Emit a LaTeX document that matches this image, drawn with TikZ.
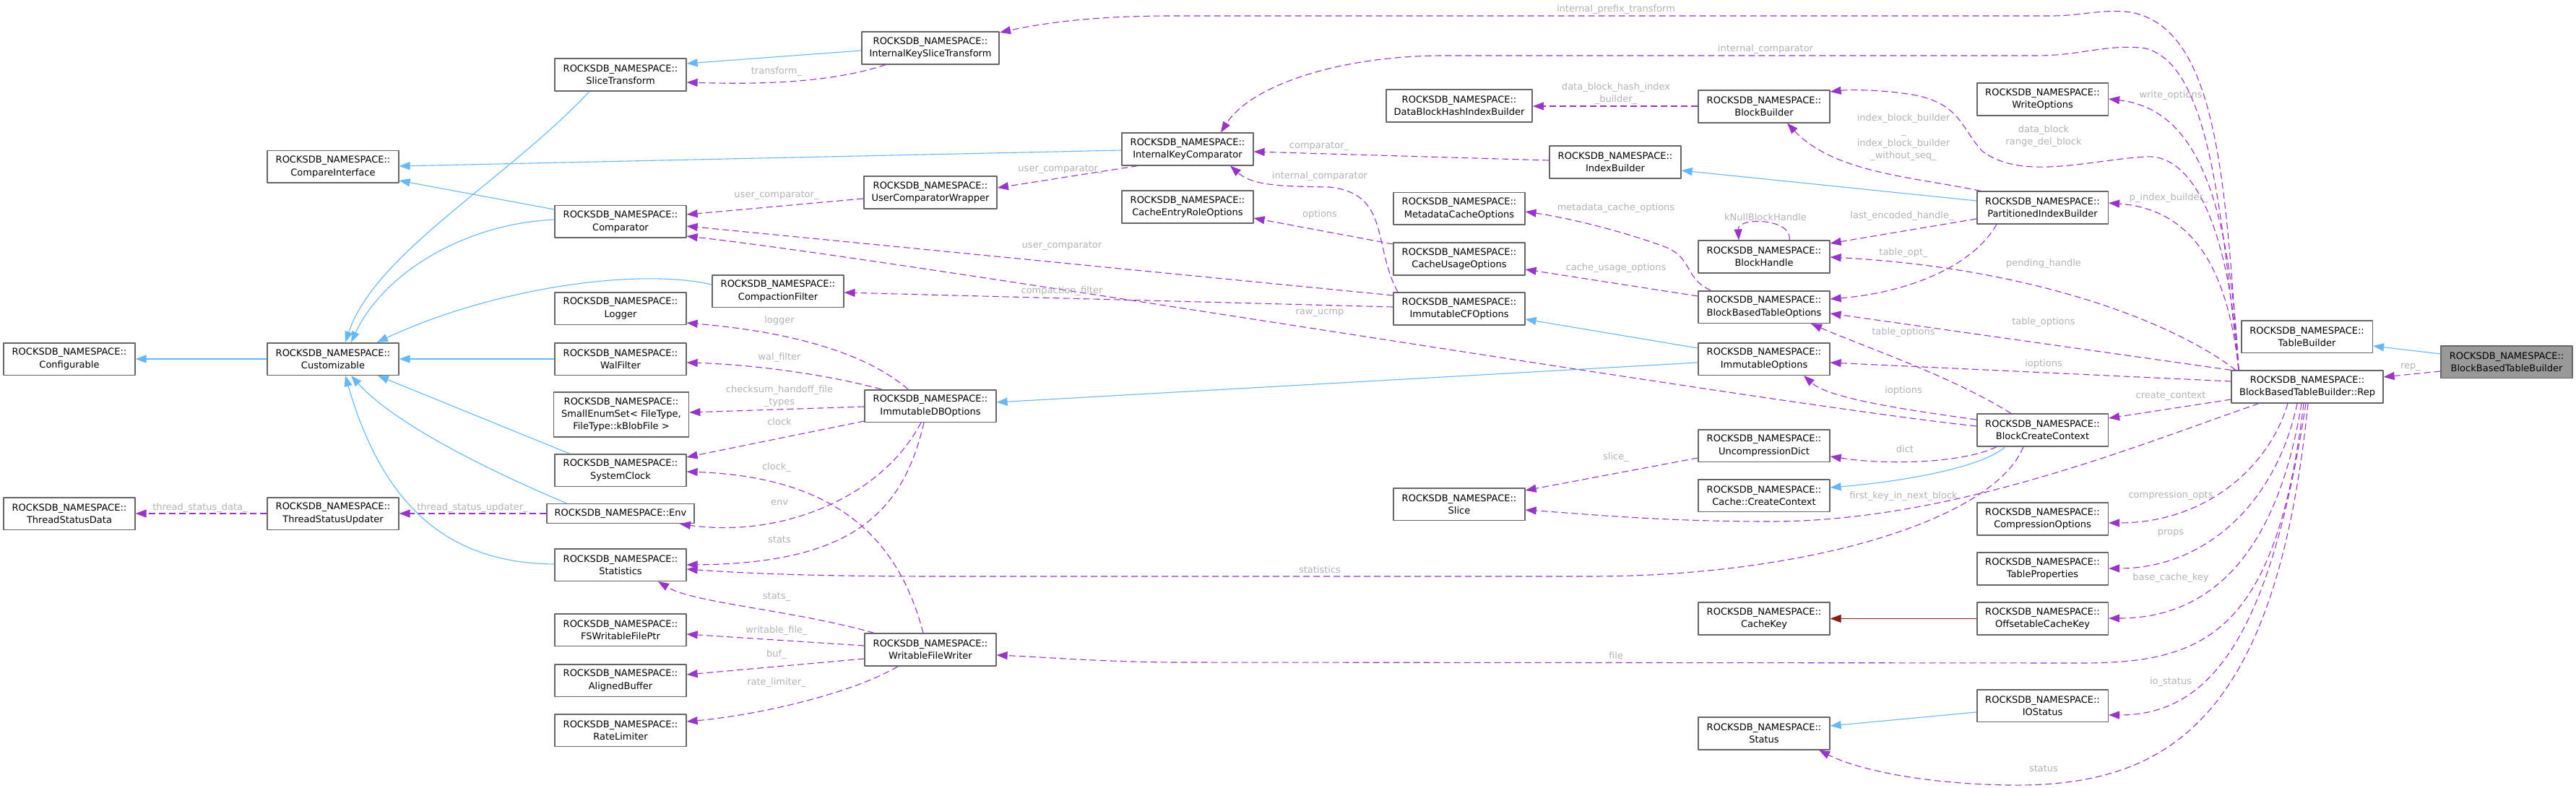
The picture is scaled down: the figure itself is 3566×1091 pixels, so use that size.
\documentclass[tikz,border=0pt]{standalone}
\usepackage{fontspec}
\newfontfamily\dvsans{DejaVu Sans}
\usetikzlibrary{arrows.meta}
\definecolor{inhblue}{RGB}{99,184,255}
\definecolor{usepurple}{RGB}{154,50,205}
\definecolor{tplred}{RGB}{139,26,26}
\definecolor{boxgray}{RGB}{102,102,102}
\definecolor{focusgray}{RGB}{153,153,153}
\definecolor{lblgray}{RGB}{178,178,178}

\begin{document}
\begin{tikzpicture}[x=0.5pt,y=-0.5pt,line join=round,
  font=\dvsans\fontsize{6.5}{8.65}\selectfont,
  cls/.style={draw=boxgray,fill=white,line width=0.8pt,align=center,inner xsep=5.4pt,inner ysep=1pt,minimum width=90.8pt,minimum height=22.3pt},
  focus/.style={cls,fill=focusgray},
  inherit/.style={draw=inhblue,line width=0.55pt,-{Triangle[length=7.5pt,width=5.5pt]}},
  usage/.style={draw=usepurple,line width=0.55pt,dash pattern=on 4.5pt off 2.5pt,-{Triangle[length=7.5pt,width=5.5pt]}},
  tpl/.style={draw=tplred,line width=0.55pt,-{Triangle[length=7.5pt,width=5.5pt]}},
  lbl/.style={text=lblgray,inner sep=0pt,align=center}]
\useasboundingbox (0,0) rectangle (3566,1091);

% classes, column by column
\node[cls] (cfg) at (96,497) {ROCKSDB\_NAMESPACE::\\Configurable};
\node[cls] (tsd) at (96,711) {ROCKSDB\_NAMESPACE::\\ThreadStatusData};
\node[cls] (cmpif) at (461,231) {ROCKSDB\_NAMESPACE::\\CompareInterface};
\node[cls] (cust) at (461,497) {ROCKSDB\_NAMESPACE::\\Customizable};
\node[cls] (tsu) at (461,711) {ROCKSDB\_NAMESPACE::\\ThreadStatusUpdater};
\node[cls] (slicet) at (859,103.5) {ROCKSDB\_NAMESPACE::\\SliceTransform};
\node[cls] (cmp) at (859,307) {ROCKSDB\_NAMESPACE::\\Comparator};
\node[cls] (logger) at (859,427) {ROCKSDB\_NAMESPACE::\\Logger};
\node[cls] (walf) at (859,497) {ROCKSDB\_NAMESPACE::\\WalFilter};
\node[cls,minimum height=31pt] (enumset) at (860,574) {ROCKSDB\_NAMESPACE::\\SmallEnumSet< FileType,\\FileType::kBlobFile >};
\node[cls] (sysclk) at (859,651) {ROCKSDB\_NAMESPACE::\\SystemClock};
\node[cls,minimum height=13.5pt] (env) at (859,711) {ROCKSDB\_NAMESPACE::Env};
\node[cls] (stats) at (859,782) {ROCKSDB\_NAMESPACE::\\Statistics};
\node[cls] (fswfp) at (859,872) {ROCKSDB\_NAMESPACE::\\FSWritableFilePtr};
\node[cls] (abuf) at (859,942) {ROCKSDB\_NAMESPACE::\\AlignedBuffer};
\node[cls] (ratelim) at (859,1011) {ROCKSDB\_NAMESPACE::\\RateLimiter};
\node[cls] (cfilt) at (1077,403) {ROCKSDB\_NAMESPACE::\\CompactionFilter};
\node[cls] (ikst) at (1288,66.5) {ROCKSDB\_NAMESPACE::\\InternalKeySliceTransform};
\node[cls] (ucw) at (1288,266.5) {ROCKSDB\_NAMESPACE::\\UserComparatorWrapper};
\node[cls] (idbo) at (1288,562) {ROCKSDB\_NAMESPACE::\\ImmutableDBOptions};
\node[cls] (wfw) at (1288,899.5) {ROCKSDB\_NAMESPACE::\\WritableFileWriter};
\node[cls] (ikc) at (1644,206.5) {ROCKSDB\_NAMESPACE::\\InternalKeyComparator};
\node[cls] (cero) at (1644,286.5) {ROCKSDB\_NAMESPACE::\\CacheEntryRoleOptions};
\node[cls] (dbhib) at (2020,146.5) {ROCKSDB\_NAMESPACE::\\DataBlockHashIndexBuilder};
\node[cls] (mco) at (2020,289) {ROCKSDB\_NAMESPACE::\\MetadataCacheOptions};
\node[cls] (cuo) at (2020,358.5) {ROCKSDB\_NAMESPACE::\\CacheUsageOptions};
\node[cls] (icfo) at (2020,427.5) {ROCKSDB\_NAMESPACE::\\ImmutableCFOptions};
\node[cls] (slice) at (2020,698) {ROCKSDB\_NAMESPACE::\\Slice};
\node[cls] (idxb) at (2236,224.5) {ROCKSDB\_NAMESPACE::\\IndexBuilder};
\node[cls] (bb) at (2442,147.5) {ROCKSDB\_NAMESPACE::\\BlockBuilder};
\node[cls] (bh) at (2442,355.5) {ROCKSDB\_NAMESPACE::\\BlockHandle};
\node[cls] (bbto) at (2442,425) {ROCKSDB\_NAMESPACE::\\BlockBasedTableOptions};
\node[cls] (imopt) at (2442,497) {ROCKSDB\_NAMESPACE::\\ImmutableOptions};
\node[cls] (udict) at (2442,617) {ROCKSDB\_NAMESPACE::\\UncompressionDict};
\node[cls] (ccc) at (2442,686) {ROCKSDB\_NAMESPACE::\\Cache::CreateContext};
\node[cls] (ckey) at (2442,856.5) {ROCKSDB\_NAMESPACE::\\CacheKey};
\node[cls] (status) at (2442,1015.5) {ROCKSDB\_NAMESPACE::\\Status};
\node[cls] (wopts) at (2827.5,137.5) {ROCKSDB\_NAMESPACE::\\WriteOptions};
\node[cls] (pib) at (2827.5,287.5) {ROCKSDB\_NAMESPACE::\\PartitionedIndexBuilder};
\node[cls] (bcc) at (2827.5,595.5) {ROCKSDB\_NAMESPACE::\\BlockCreateContext};
\node[cls] (copts) at (2827.5,718.5) {ROCKSDB\_NAMESPACE::\\CompressionOptions};
\node[cls] (tprops) at (2827.5,787.5) {ROCKSDB\_NAMESPACE::\\TableProperties};
\node[cls] (ock) at (2827.5,856.5) {ROCKSDB\_NAMESPACE::\\OffsetableCacheKey};
\node[cls] (iostat) at (2827.5,977) {ROCKSDB\_NAMESPACE::\\IOStatus};
\node[cls] (tb) at (3193.5,466) {ROCKSDB\_NAMESPACE::\\TableBuilder};
\node[cls] (rep) at (3194,535.5) {ROCKSDB\_NAMESPACE::\\BlockBasedTableBuilder::Rep};
\node[focus] (bbtb) at (3470,501) {ROCKSDB\_NAMESPACE::\\BlockBasedTableBuilder};

% inheritance
\draw[inherit] (cust) -- (cfg);
\draw[inherit] (slicet.south -| 816,0) .. controls (700,250) and (520,350) .. (cust.north -| 478,0);
\draw[inherit] (cmp.west |- 0,290) -- (cmpif.east |- 0,250);
\draw[inherit] (cmp.west |- 0,304) .. controls (640,310) and (530,380) .. (cust.north -| 486,0);
\draw[inherit] (cfilt.west |- 0,394) .. controls (880,370) and (680,400) .. (cust.north -| 522,0);
\draw[inherit] (walf) -- (cust);
\draw[inherit] (sysclk.north -| 788,0) -- (cust.south -| 523,0);
\draw[inherit] (env.north -| 784,0) .. controls (650,640) and (540,580) .. (cust.south -| 486,0);
\draw[inherit] (stats.west |- 0,781) .. controls (620,780) and (530,700) .. (cust.south -| 478,0);
\draw[inherit] (ikst.west |- 0,70) -- (slicet.east |- 0,88);
\draw[inherit] (ikc.west |- 0,208) -- (cmpif.east |- 0,230);
\draw[inherit] (pib.west |- 0,278) -- (idxb.east |- 0,236);
\draw[inherit] (imopt.west |- 0,482) -- (icfo.east |- 0,442);
\draw[inherit] (imopt.west |- 0,502) -- (idbo.east |- 0,557);
\draw[inherit] (bbtb.west |- 0,490) -- (tb.east |- 0,479);
\draw[inherit] (bcc.south -| 2776,0) .. controls (2740,650) and (2620,668) .. (ccc.east |- 0,675);
\draw[inherit] (iostat.west |- 0,986) -- (status.east |- 0,1005);
\draw[tpl] (ock) -- (ckey);

% members of Rep
\draw[usage] (bbtb.west |- 0,514) -- (rep.east |- 0,522);
\draw[usage] (rep.north -| 3099,0) .. controls (3080,250) and (3070,40) .. (2950,17) .. controls (2910,12) and (2880,22) .. (2840,22) -- (1620,22) .. controls (1500,22) and (1430,35) .. (ikst.east |- 0,45);
\draw[usage] (rep.north -| 3099,0) .. controls (3075,300) and (3060,90) .. (2970,67) .. controls (2920,60) and (2880,77) .. (2820,77) -- (2000,77) .. controls (1850,77) and (1730,120) .. (ikc.north -| 1690,0);
\draw[usage] (rep.north -| 3099,0) .. controls (3085,250) and (3030,150) .. (wopts.east |- 0,137);
\draw[usage] (rep.north -| 3099,0) .. controls (3085,300) and (3030,212) .. (2970,217) .. controls (2890,222) and (2800,250) .. (2745,210) .. controls (2715,180) and (2715,140) .. (2640,130) .. controls (2600,124) and (2560,124) .. (bb.east |- 0,127);
\draw[usage] (rep.north -| 3099,0) .. controls (3085,380) and (3040,290) .. (pib.east |- 0,281);
\draw[usage] (rep.north -| 3095,0) .. controls (3000,440) and (2800,370) .. (bh.east |- 0,356);
\draw[usage] (rep.north west) -- (bbto.east |- 0,434);
\draw[usage] (rep.west |- 0,528) -- (imopt.east |- 0,502);
\draw[usage] (rep.west |- 0,553) -- (bcc.east |- 0,579);
\draw[usage] (rep.south -| 3127,0) .. controls (2950,620) and (2700,722) .. (2450,722) .. controls (2300,722) and (2200,712) .. (slice.east |- 0,706);
\draw[usage] (rep.south -| 3167,0) .. controls (3140,650) and (3050,724) .. (copts.east |- 0,724);
\draw[usage] (rep.south -| 3180,0) .. controls (3150,700) and (3050,787) .. (tprops.east |- 0,787);
\draw[usage] (rep.south -| 3186,0) .. controls (3150,780) and (3050,856) .. (ock.east |- 0,856);
\draw[usage] (rep.south -| 3189,0) .. controls (3150,880) and (3050,918) .. (2880,918) -- (1620,917) .. controls (1520,916) and (1450,910) .. (wfw.east |- 0,907);
\draw[usage] (rep.south -| 3192,0) .. controls (3140,900) and (3050,990) .. (iostat.east |- 0,990);
\draw[usage] (rep.south -| 3195,0) .. controls (3150,1000) and (3000,1090) .. (2780,1087) .. controls (2660,1085) and (2570,1065) .. (status.south -| 2518,0);

% index builder, block handle, table options
\draw[usage] (pib.north -| 2742,0) .. controls (2650,245) and (2540,240) .. (bb.south -| 2474,0);
\draw[usage] (pib.west |- 0,303) -- (bh.east |- 0,337);
\draw[usage] (pib.south -| 2764,0) .. controls (2730,370) and (2640,405) .. (bbto.east |- 0,414);
\draw[usage] (bh.north -| 2477,0) .. controls (2482,302) and (2405,300) .. (bh.north -| 2407,0);
\draw[usage] (bbto.north -| 2368,0) .. controls (2330,385) and (2345,355) .. (2300,340) .. controls (2230,315) and (2160,300) .. (mco.east |- 0,293);
\draw[usage] (bbto.west |- 0,410) -- (cuo.east |- 0,373);
\draw[usage] (bb.west |- 0,147) -- (dbhib.east |- 0,147);
\draw[usage] (idxb.west |- 0,222) -- (ikc.east |- 0,210);

% block create context
\draw[usage] (bcc.north -| 2784,0) .. controls (2700,520) and (2580,480) .. (bbto.south -| 2507,0);
\draw[usage] (bcc.west |- 0,581) .. controls (2620,565) and (2530,550) .. (imopt.south -| 2497,0);
\draw[usage] (bcc.west |- 0,590) .. controls (2450,560) and (1250,360) .. (cmp.east |- 0,327);
\draw[usage] (bcc.south -| 2764,0) .. controls (2720,640) and (2620,645) .. (udict.east |- 0,632);
\draw[usage] (bcc.south -| 2801,0) .. controls (2760,720) and (2500,798) .. (2200,798) -- (1300,798) .. controls (1150,798) and (1050,795) .. (stats.east |- 0,788);
\draw[usage] (udict.west |- 0,634) -- (slice.east |- 0,679);

% comparators and cf options
\draw[usage] (ikst.south -| 1226,0) .. controls (1150,115) and (1050,117) .. (slicet.east |- 0,114);
\draw[usage] (ikc.south -| 1575,0) -- (ucw.east |- 0,260);
\draw[usage] (ucw.west |- 0,275) -- (cmp.east |- 0,297);
\draw[usage] (icfo.north -| 1935,0) .. controls (1900,340) and (1925,268) .. (1840,259) .. controls (1780,258) and (1735,258) .. (ikc.south -| 1703,0);
\draw[usage] (cuo.west |- 0,338) -- (cero.east |- 0,302);
\draw[usage] (icfo.west |- 0,409) -- (cmp.east |- 0,313);
\draw[usage] (icfo.west |- 0,425) -- (cfilt.east |- 0,405);

% db options and file writer
\draw[usage] (idbo.north -| 1257,0) .. controls (1200,490) and (1100,460) .. (logger.east |- 0,447);
\draw[usage] (idbo.north -| 1220,0) .. controls (1150,520) and (1050,505) .. (walf.east |- 0,502);
\draw[usage] (idbo.west |- 0,563) -- (enumset.east |- 0,571);
\draw[usage] (idbo.west |- 0,583) -- (sysclk.east |- 0,633);
\draw[usage] (idbo.south -| 1275,0) .. controls (1220,690) and (1080,745) .. (env.south -| 941,0);
\draw[usage] (idbo.south -| 1279,0) .. controls (1250,710) and (1180,780) .. (stats.east |- 0,782);
\draw[usage] (wfw.north -| 1278,0) .. controls (1240,730) and (1140,660) .. (sysclk.east |- 0,653);
\draw[usage] (wfw.north -| 1210,0) .. controls (1100,845) and (960,835) .. (stats.south -| 911,0);
\draw[usage] (wfw.west |- 0,894) -- (fswfp.east |- 0,878);
\draw[usage] (wfw.west |- 0,912) -- (abuf.east |- 0,934);
\draw[usage] (wfw.south -| 1243,0) .. controls (1180,960) and (1050,990) .. (ratelim.east |- 0,999);
\draw[usage] (env) -- (tsu);
\draw[usage] (tsu) -- (tsd);

% edge labels
\node[lbl] (l-transform) at (1075,99) {transform\_};
\node[lbl] (l-ipt) at (2237,13) {internal\_prefix\_transform};
\node[lbl] (l-icmp1) at (2444,68) {internal\_comparator};
\node[lbl] (l-dbhib) at (2237,129.5) {data\_block\_hash\_index\\\_builder\_};
\node[lbl] (l-cmp) at (1826,202) {comparator\_};
\node[lbl] (l-ucmp1) at (1468,234) {user\_comparator\_};
\node[lbl] (l-ucmp2) at (1075,270) {user\_comparator\_};
\node[lbl] (l-icmp2) at (1827,244) {internal\_comparator};
\node[lbl] (l-mco) at (2237,288) {metadata\_cache\_options};
\node[lbl] (l-options) at (1827,297) {options};
\node[lbl] (l-cuo) at (2237,371) {cache\_usage\_options};
\node[lbl] (l-ucmp3) at (1470,340) {user\_comparator};
\node[lbl] (l-cfilt) at (1470,403) {compaction\_filter};
\node[lbl] (l-rawucmp) at (1827,433) {raw\_ucmp};
\node[lbl] (l-logger) at (1079,444) {logger};
\node[lbl] (l-walf) at (1079,495) {wal\_filter};
\node[lbl] (l-types) at (1079,548.5) {checksum\_handoff\_file\\\_types};
\node[lbl] (l-clock) at (1079,584) {clock};
\node[lbl] (l-clock2) at (1075,647) {clock\_};
\node[lbl] (l-env) at (1079,696) {env};
\node[lbl] (l-stats) at (1079,747) {stats};
\node[lbl] (l-stats2) at (1075,826) {stats\_};
\node[lbl] (l-wfile) at (1075,873) {writable\_file\_};
\node[lbl] (l-buf) at (1075,906) {buf\_};
\node[lbl] (l-ratelim) at (1075,945) {rate\_limiter\_};
\node[lbl] (l-tsd) at (277,703) {thread\_status\_data\_};
\node[lbl] (l-tsu) at (654,703) {thread\_status\_updater\_};
\node[lbl] (l-slice) at (2237,633) {slice\_};
\node[lbl] (l-statistics) at (1827,789) {statistics};
\node[lbl] (l-file) at (2237,908) {file};
\node[lbl] (l-wopts) at (3005,132) {write\_options};
\node[lbl] (l-ibb) at (2635,190.5) {index\_block\_builder\\\_\\index\_block\_builder\\\_without\_seq\_};
\node[lbl] (l-dblock) at (2829,188.5) {data\_block\\range\_del\_block};
\node[lbl] (l-knull) at (2444,301) {kNullBlockHandle};
\node[lbl] (l-leh) at (2633,299) {last\_encoded\_handle\_};
\node[lbl] (l-pib) at (3002,274) {p\_index\_builder\_};
\node[lbl] (l-topt) at (2635,350) {table\_opt\_};
\node[lbl] (l-pending) at (2829,365) {pending\_handle};
\node[lbl] (l-topts1) at (2635,460) {table\_options};
\node[lbl] (l-topts2) at (2829,446) {table\_options};
\node[lbl] (l-iopts1) at (2829,504) {ioptions};
\node[lbl] (l-rep) at (3337,508) {rep\_};
\node[lbl] (l-cctx) at (3005,548) {create\_context};
\node[lbl] (l-iopts2) at (2635,541) {ioptions};
\node[lbl] (l-dict) at (2637,622) {dict};
\node[lbl] (l-fkey) at (2635,687) {first\_key\_in\_next\_block};
\node[lbl] (l-copts) at (3005,686) {compression\_opts};
\node[lbl] (l-props) at (3005,738) {props};
\node[lbl] (l-bck) at (3005,800) {base\_cache\_key};
\node[lbl] (l-iostat) at (3005,944) {io\_status};
\node[lbl] (l-status) at (2829,1064) {status};
\end{tikzpicture}
\end{document}
